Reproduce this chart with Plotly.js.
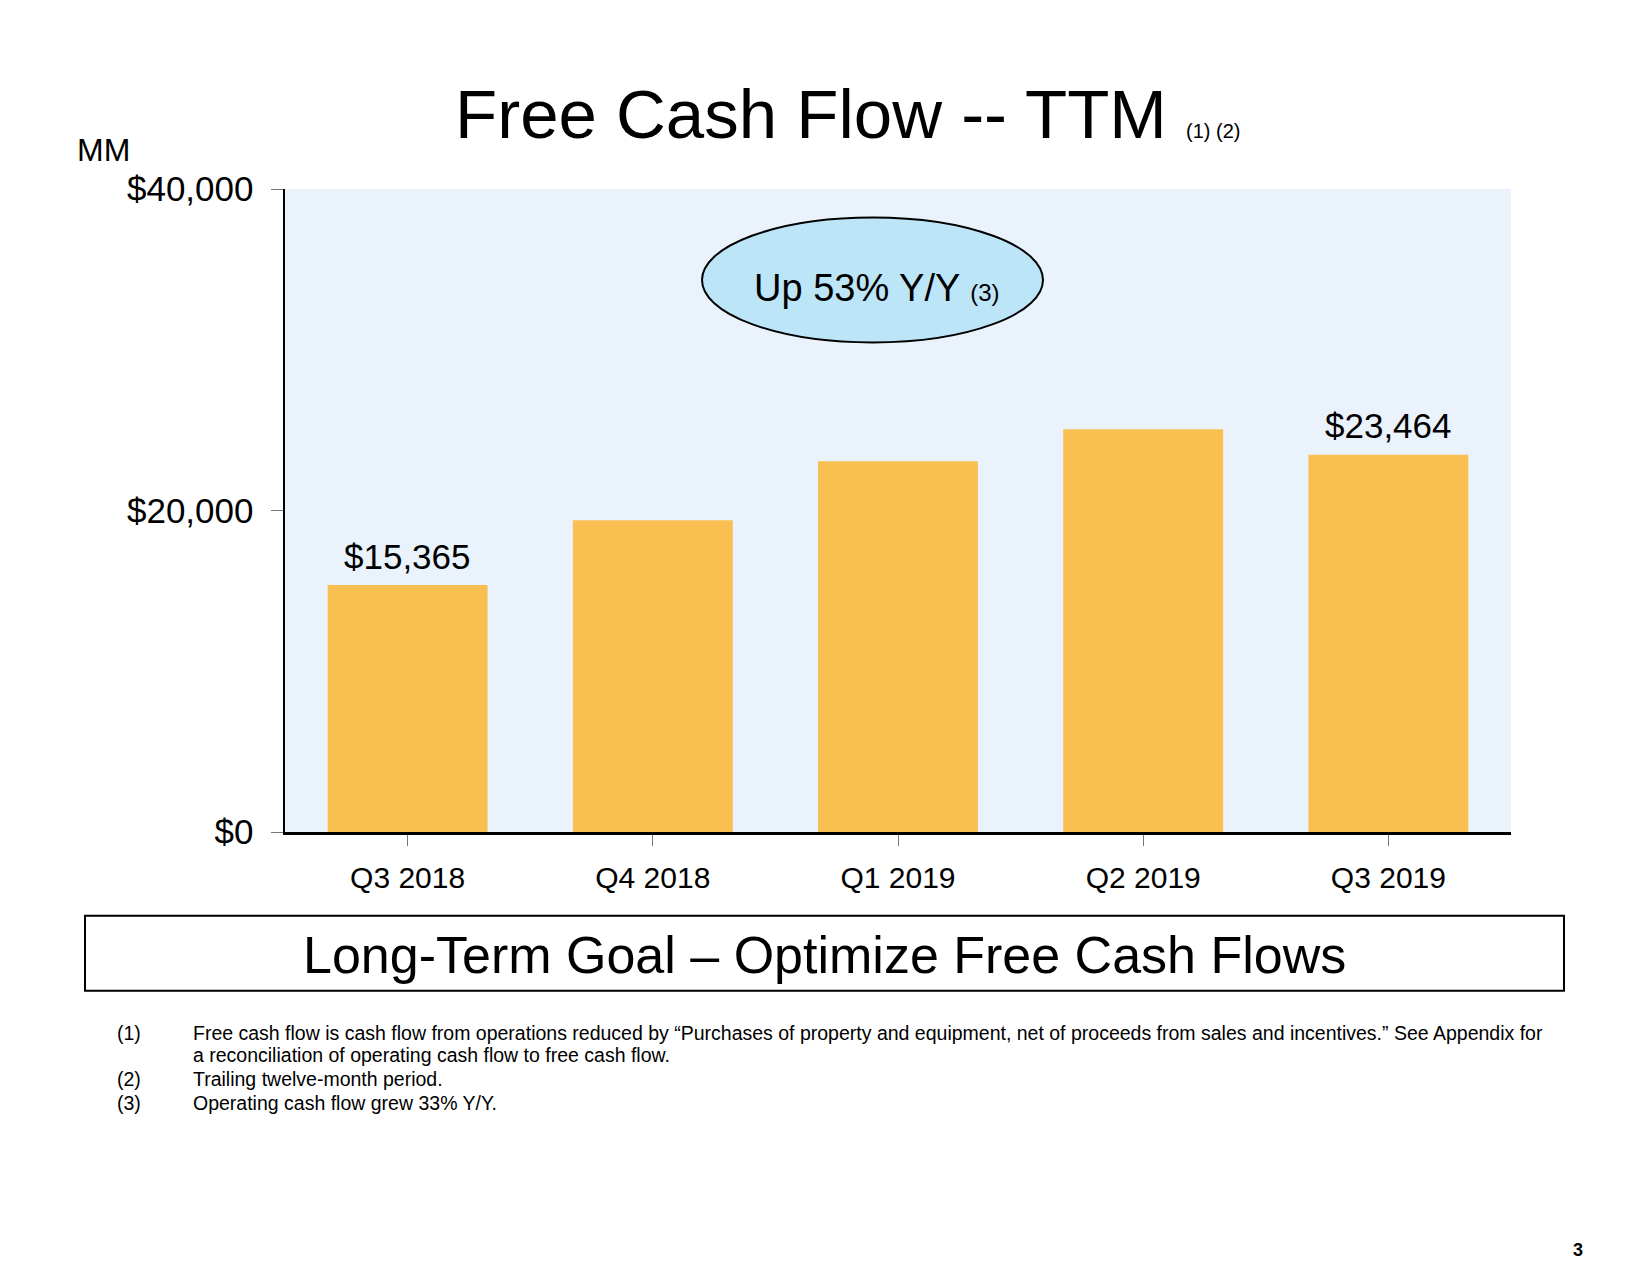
<!DOCTYPE html>
<html>
<head>
<meta charset="utf-8">
<script src="https://cdn.plot.ly/plotly-3.0.1.min.js"></script>
<style>
  html, body { margin: 0; padding: 0; background: #ffffff; }
  #chart { width: 1650px; height: 1275px; }
</style>
</head>
<body>
<div id="chart"></div>
<script>
// ---- Data ----
const quarters = ['Q3 2018', 'Q4 2018', 'Q1 2019', 'Q2 2019', 'Q3 2019'];
const fcfTTM = [15365, 19400, 23070, 25050, 23464];
const labelShown = [true, false, false, false, true];
const yTickVals = [0, 20000, 40000];
const footNums = ['(1)', '', '(2)', '(3)'];
const footTexts = [
  'Free cash flow is cash flow from operations reduced by \u201cPurchases of property and equipment, net of proceeds from sales and incentives.\u201d See Appendix for',
  'a reconciliation of operating cash flow to free cash flow.',
  'Trailing twelve-month period.',
  'Operating cash flow grew 33% Y/Y.'
];

const FONT = 'Arial, "Liberation Sans", Helvetica, sans-serif';

// plot area in pixels (for converting decorative positions to paper coords)
const W = 1650, H = 1275;
const PL = 285, PR = 1511, PT = 189, PB = 832.3;
const px = x => (x - PL) / (PR - PL);
const py = y => (PB - y) / (PB - PT);

const fmt = v => '$' + v.toLocaleString('en-US');

const trace = {
  type: 'bar',
  x: quarters,
  y: fcfTTM,
  marker: { color: '#F9BF50', line: { width: 0 } },
  hoverinfo: 'skip'
};

const annotations = [];

// data labels on selected bars
quarters.forEach((q, i) => {
  if (labelShown[i]) {
    annotations.push({
      xref: 'x', yref: 'y', x: q, y: fcfTTM[i],
      text: fmt(fcfTTM[i]), showarrow: false,
      xanchor: 'center', yanchor: 'middle', yshift: 29,
      font: { family: FONT, size: 35, color: '#000000' }
    });
  }
});

// MM unit label
annotations.push({
  xref: 'paper', yref: 'paper', x: px(75), y: py(150),
  xanchor: 'left', yanchor: 'middle', showarrow: false,
  text: 'MM', font: { family: FONT, size: 32, color: '#000000' }
});

// ellipse text
annotations.push({
  xref: 'paper', yref: 'paper', x: px(877), y: py(288),
  xanchor: 'center', yanchor: 'middle', showarrow: false,
  text: 'Up 53% Y/Y <span style="font-size:24px">(3)</span>',
  font: { family: FONT, size: 38, color: '#000000' }
});

// long-term goal text
annotations.push({
  xref: 'paper', yref: 'paper', x: px(824), y: py(955),
  xanchor: 'center', yanchor: 'middle', showarrow: false,
  text: 'Long-Term Goal \u2013 Optimize Free Cash Flows',
  font: { family: FONT, size: 52, color: '#000000' }
});

// footnotes
const footY = [1033, 1055, 1079, 1103];
footTexts.forEach((t, i) => {
  if (footNums[i]) {
    annotations.push({
      xref: 'paper', yref: 'paper', x: px(115), y: py(footY[i]),
      xanchor: 'left', yanchor: 'middle', showarrow: false,
      text: footNums[i], font: { family: FONT, size: 19.5, color: '#000000' }
    });
  }
  annotations.push({
    xref: 'paper', yref: 'paper', x: px(191), y: py(footY[i]),
    xanchor: 'left', yanchor: 'middle', showarrow: false,
    text: t, font: { family: FONT, size: 19.5, color: '#000000' }
  });
});

// page number
annotations.push({
  xref: 'paper', yref: 'paper', x: px(1578), y: py(1250),
  xanchor: 'center', yanchor: 'middle', showarrow: false,
  text: '<b>3</b>', font: { family: FONT, size: 18, color: '#000000' }
});

const shapes = [
  {
    type: 'circle', xref: 'paper', yref: 'paper',
    x0: px(702), x1: px(1043), y0: py(342.5), y1: py(217.5),
    fillcolor: '#BDE5F8', line: { color: '#000000', width: 2 }, layer: 'above'
  },
  {
    type: 'rect', xref: 'paper', yref: 'paper',
    x0: px(85), x1: px(1564), y0: py(991), y1: py(916),
    fillcolor: 'rgba(0,0,0,0)', line: { color: '#000000', width: 2 }
  }
];

const layout = {
  width: W, height: H,
  margin: { l: PL, r: W - PR, t: PT, b: H - PB, pad: 0 },
  paper_bgcolor: '#ffffff',
  plot_bgcolor: '#EAF2FC',
  showlegend: false,
  bargap: 0.348,
  font: { family: FONT, color: '#000000' },
  title: {
    text: 'Free Cash Flow -- TTM <span style="font-size:20px">(1) (2)</span>',
    font: { family: FONT, size: 69, color: '#000000' },
    xref: 'container', yref: 'container',
    x: 455 / W, xanchor: 'left',
    y: 1 - 114 / H, yanchor: 'middle'
  },
  xaxis: {
    type: 'category',
    range: [-0.5, quarters.length - 0.5],
    showline: true, linecolor: '#000000', linewidth: 2.5,
    ticks: 'outside', ticklen: 11, tickwidth: 1, tickcolor: '#777777',
    tickfont: { family: FONT, size: 30, color: '#000000' },
    ticklabelstandoff: 6,
    showgrid: false, zeroline: false, fixedrange: true
  },
  yaxis: {
    range: [0, 40000],
    tickmode: 'array', tickvals: yTickVals,
    ticktext: yTickVals.map(fmt),
    showline: true, linecolor: '#000000', linewidth: 2.5,
    ticks: 'outside', ticklen: 12, tickwidth: 1, tickcolor: '#777777',
    tickfont: { family: FONT, size: 35, color: '#000000' },
    ticklabelstandoff: 10,
    showgrid: false, zeroline: false, fixedrange: true
  },
  annotations: annotations,
  shapes: shapes
};

Plotly.newPlot('chart', [trace], layout, { displayModeBar: false, staticPlot: true });
</script>
</body>
</html>
